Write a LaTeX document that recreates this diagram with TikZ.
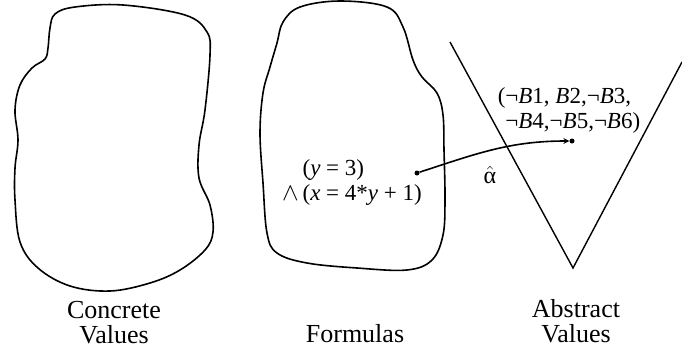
\documentclass[tikz,border=0pt]{standalone}
\usepackage{fontspec}
\setmainfont{Liberation Serif}
\usetikzlibrary{arrows.meta}

\tikzset{
  blob/.style={line width=1.6pt, line join=round},
  caption/.style={font=\fontsize{26}{25}\selectfont, align=center, inner sep=0pt},
  formula/.style={font=\fontsize{23}{25}\selectfont, align=left, inner sep=0pt},
  dot/.style={circle, fill, inner sep=0pt, minimum size=5pt}
}

\begin{document}
\begin{tikzpicture}[>=stealth, x=1pt, y=-1pt]
        \useasboundingbox (0,0) rectangle (682,354);

        % Concrete values blob
        \draw[blob] plot[smooth cycle, tension=0.6] coordinates {
          (55,14) (75,7) (123,5) (185,15) (207,32) (210,55) (205,110) (199,145)
          (199,178) (210,205) (213,232) (205,250) (180,270) (150,283) (110,291)
          (70,286) (38,268) (20,242) (15,200) (15,168) (18,140) (15,110) (20,85)
          (32,68) (45,59) (48,48) (50,28)};

        % Formulas blob
        \draw[blob] plot[smooth cycle, tension=0.6] coordinates {
          (283,22) (300,7) (340,1) (387,7) (403,27) (413,60) (422,77) (437,93)
          (443,115) (444,150) (445,200) (443,235) (432,260) (407,270) (357,268)
          (307,263) (277,253) (267,233) (263,183) (260,133) (263,93) (270,67)
          (277,43)};

        % Abstract values
        \draw[line width=1.4pt] (450,42) -- (573,268) -- (682,62);

        % Nodes
        \node[caption] (concrete) at (114,323) {Concrete\\Values};
        \node[caption, anchor=base] (formulas) at (355,342) {Formulas};
        \node[caption] (abstract) at (576,321) {Abstract\\Values};

        \node[formula] (phi) at (352,182) {\phantom{$\wedge$\,}(\textit{y} = 3)\\$\wedge$\,(\textit{x} = 4*\textit{y} + 1)};
        \node[formula] (bits) at (569,110) {(¬\textit{B}1, \textit{B}2,¬\textit{B}3,\\\phantom{(}¬\textit{B}4,¬\textit{B}5,¬\textit{B}6)};

        \node[dot] (fdot) at (417,173) {};
        \node[dot] (adot) at (572,141) {};
        \node[font=\fontsize{24}{24}\selectfont, inner sep=0pt] (alpha) at (490,175) {$\hat{\mbox{α}}$};

        % Abstraction
        \draw[->, line width=1.6pt] (fdot) to[out=18, in=180] (adot);

    \end{tikzpicture}
\end{document}
